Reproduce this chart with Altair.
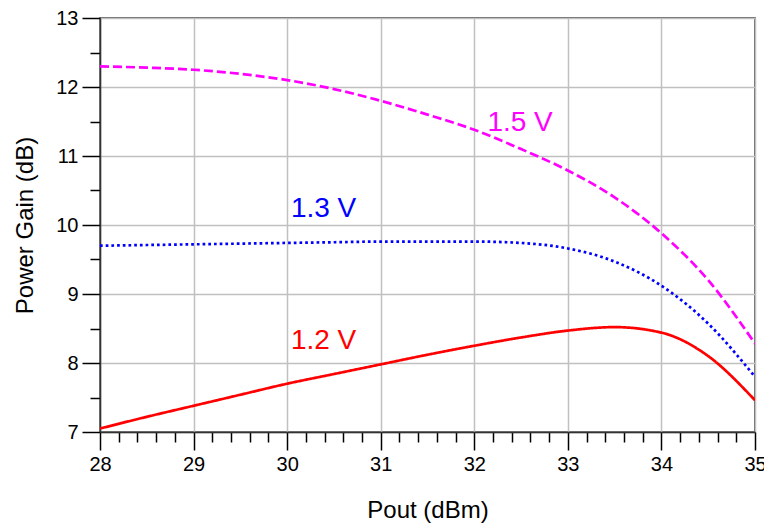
import altair as alt
import pandas as pd

pout = [28, 28.5, 29, 29.5, 30, 30.5, 31, 31.5, 32, 32.5, 33, 33.5, 34, 34.5, 35]
gain_15 = [12.30, 12.28, 12.25, 12.19, 12.10, 11.97, 11.80, 11.60, 11.38, 11.10, 10.79, 10.40, 9.88, 9.20, 8.28]
gain_13 = [9.70, 9.71, 9.72, 9.73, 9.74, 9.75, 9.76, 9.76, 9.76, 9.74, 9.66, 9.47, 9.12, 8.57, 7.80]
gain_12 = [7.05, 7.22, 7.38, 7.54, 7.70, 7.84, 7.98, 8.12, 8.25, 8.37, 8.47, 8.52, 8.44, 8.10, 7.46]

series = ["1.5 V", "1.3 V", "1.2 V"]
colors = ["#FF00FF", "#0000FF", "#FF0000"]
dashes = [[9, 4], [2.7, 3], [1, 0]]

label_x = [32.14, 30.04, 30.04]
label_y = [11.36, 10.12, 8.20]

x_ticks = [round(28 + 0.2 * i, 1) for i in range(36)]
y_ticks = [7 + 0.5 * i for i in range(13)]

rows = []
for name, vals in zip(series, [gain_15, gain_13, gain_12]):
    for x, y in zip(pout, vals):
        rows.append({"pout": x, "gain": y, "series": name})
df = pd.DataFrame(rows)
lab = pd.DataFrame({"x": label_x, "y": label_y, "series": series})

FONT = "Liberation Sans"
minor = "abs(datum.value - round(datum.value)) > 0.01"


def make_axis(vals, title, tpad):
    return alt.Axis(
        values=vals, title=title,
        labelExpr=f"{minor} ? '' : format(datum.value, 'd')",
        labelOverlap=False, labelFlush=False,
        tickSize={"condition": {"test": minor, "value": 10}, "value": 18},
        gridOpacity={"condition": {"test": minor, "value": 0}, "value": 1},
        labelPadding=4, titlePadding=tpad,
        labelFont=FONT, titleFont=FONT, labelFontSize=20, titleFontSize=24,
        labelColor="#000000", titleColor="#000000", titleFontWeight="normal",
        domainColor="#333333", domainWidth=1.5, tickColor="#000000", tickWidth=1.5,
        gridColor="#c0c0c0", gridWidth=1.5,
    )


xaxis = make_axis(x_ticks, "Pout (dBm)", 24)
yaxis = make_axis(y_ticks, "Power Gain (dB)", 18)

xs = alt.Scale(domain=[28, 35], nice=False, zero=False)
ys = alt.Scale(domain=[7, 13], nice=False, zero=False)
cs = alt.Scale(domain=series, range=colors)
ds = alt.Scale(domain=series, range=dashes)

lines = alt.Chart(df).mark_line(strokeWidth=2.7, interpolate="monotone", clip=True).encode(
    x=alt.X("pout:Q", scale=xs, axis=xaxis),
    y=alt.Y("gain:Q", scale=ys, axis=yaxis),
    color=alt.Color("series:N", scale=cs, legend=None),
    strokeDash=alt.StrokeDash("series:N", scale=ds, legend=None),
    detail="series:N",
)

texts = alt.Chart(lab).mark_text(align="left", baseline="alphabetic", fontSize=28, font=FONT).encode(
    x=alt.X("x:Q", scale=xs, axis=xaxis),
    y=alt.Y("y:Q", scale=ys, axis=yaxis),
    text="series:N",
    color=alt.Color("series:N", scale=cs, legend=None),
)

chart = alt.layer(lines, texts).properties(
    width=655, height=414,
    autosize=alt.AutoSizeParams(type="none"),
    padding={"left": 100, "top": 18, "right": 9, "bottom": 91},
).configure_view(stroke="#333333", strokeWidth=1.5)

chart.save("out.html", embed_options={"renderer": "svg", "actions": False})
